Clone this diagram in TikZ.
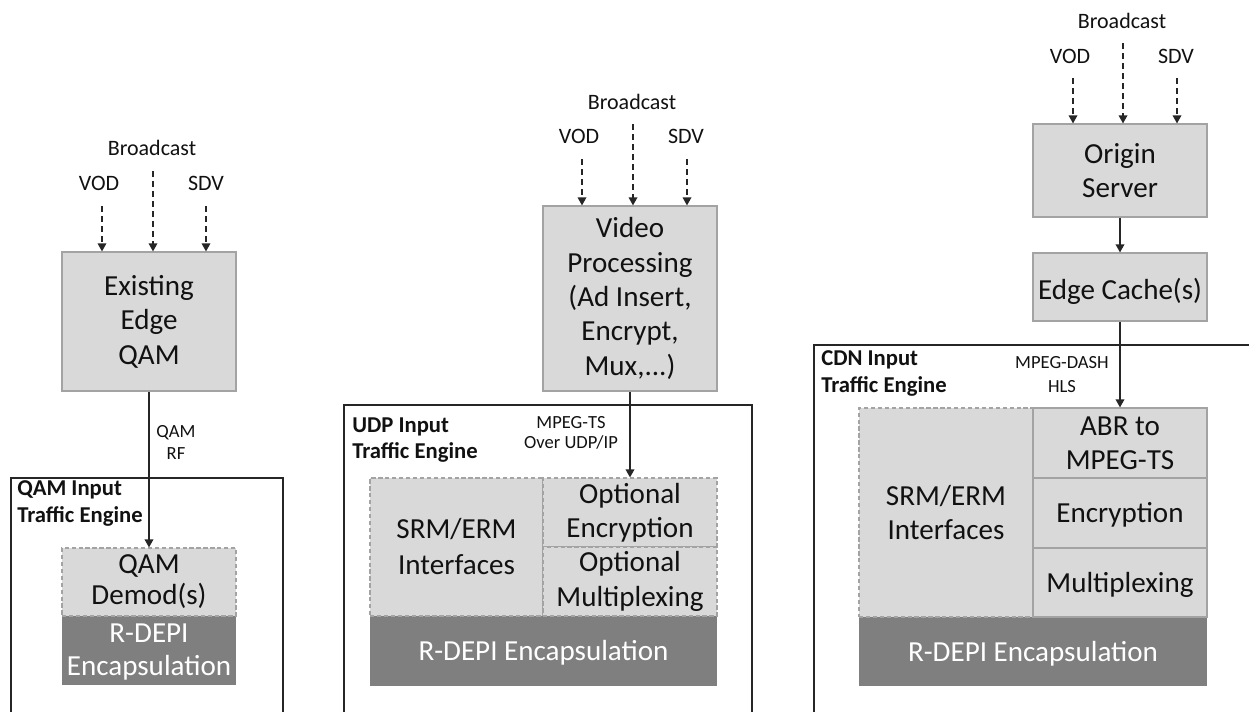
\documentclass[tikz,border=0pt]{standalone}
\usepackage{fontspec}
\setmainfont{Carlito}
\usetikzlibrary{arrows.meta,fit}

\definecolor{boxfill}{HTML}{D9D9D9}
\definecolor{boxline}{HTML}{A3A3A3}
\definecolor{encfill}{HTML}{7F7F7F}
\definecolor{ink}{HTML}{111111}
\definecolor{wire}{HTML}{262626}

\tikzset{
  big/.style={font=\fontsize{21.8}{25.8}\selectfont, align=center, inner sep=0pt, text=ink},
  bigw/.style={big, text=white},
  small/.style={font=\fontsize{16.5}{20}\selectfont, text=ink},
  tiny/.style={font=\fontsize{13.9}{17}\selectfont, text=ink, align=center},
  engine/.style={font=\bfseries\fontsize{17}{20}\selectfont, text=ink, align=left, anchor=west, inner sep=0pt},
  blk/.style={fill=boxfill, draw=boxline, line width=0.9pt, inner sep=0pt},
  dblk/.style={blk, dash pattern=on 3.2pt off 2pt},
  enc/.style={fill=encfill, draw=none, inner sep=0pt},
  inarrow/.style={draw=wire, line width=0.9pt, dash pattern=on 4.5pt off 3pt,
                  -{Triangle[length=6pt,width=6.5pt]}},
  conn/.style={draw=wire, line width=1pt, -{Triangle[length=6pt,width=6.5pt]}},
  cont/.style={draw=wire, line width=1pt},
}

\begin{document}
\begin{tikzpicture}[x=0.75pt, y=-0.75pt]
\useasboundingbox (0,0) rectangle (1249,711);

% ---------------- QAM input traffic engine ----------------
\node[blk, fit={(62,252)(236,391)}] (ex) {};
\node[big] (ex-t) at (ex.center) {Existing\\Edge\\QAM};
\node[small] (bc1) at (152,148) {Broadcast};
\node[small] (vod1) at (99,183) {VOD};
\node[small] (sdv1) at (206,183) {SDV};
\coordinate (bcs1) at (153,171);
\coordinate (vods1) at (102,206);
\coordinate (sdvs1) at (206,206);
\draw[inarrow] (bcs1) -- (bcs1 |- ex.north);
\draw[inarrow] (vods1) -- (vods1 |- ex.north);
\draw[inarrow] (sdvs1) -- (sdvs1 |- ex.north);

\draw[cont] (11,715) -- (11,478) -- (283,478) -- (283,715);
\node[engine] (lab1) at (17,503.5) {QAM Input\\Traffic Engine};

\node[enc, fit={(62,616)(236,685)}] (rd1) {};
\node[bigw, font=\fontsize{21.8}{24.8}\selectfont] (rd1-t) at ([yshift=-1pt]rd1.center) {R-DEPI\\Encapsulation};
\node[dblk, fit={(62,548)(236,616)}] (demod) {};
\node[big, font=\fontsize{21.8}{23.3}\selectfont] (demod-t) at (demod.center) {QAM\\Demod(s)};

\draw[conn] (ex.south) -- (demod.north);
\node[tiny, font=\fontsize{13.9}{17.2}\selectfont] (qrf) at (176,442.5) {QAM\\RF};

% ---------------- UDP input traffic engine ----------------
\node[blk, fit={(543,206)(717,391)}] (vp) {};
\node[big] (vp-t) at (vp.center) {Video\\Processing\\(Ad Insert,\\Encrypt,\\Mux,...)};
\node[small] (bc2) at (632,102) {Broadcast};
\node[small] (vod2) at (579,136) {VOD};
\node[small] (sdv2) at (686,136) {SDV};
\coordinate (bcs2) at (633,124);
\coordinate (vods2) at (582,159);
\coordinate (sdvs2) at (687,159);
\draw[inarrow] (bcs2) -- (bcs2 |- vp.north);
\draw[inarrow] (vods2) -- (vods2 |- vp.north);
\draw[inarrow] (sdvs2) -- (sdvs2 |- vp.north);

\draw[cont] (344,715) -- (344,405) -- (752,405) -- (752,715);
\node[engine] (lab2) at (352,440) {UDP Input\\Traffic Engine};

\node[enc, fit={(370,616)(717,686)}] (rd2) {};
\node[bigw] (rd2-t) at ([yshift=-1.5pt]rd2.center) {R-DEPI Encapsulation};
\node[dblk, fit={(370,478)(543,616)}] (srm2) {};
\node[big, font=\fontsize{21.8}{27}\selectfont] (srm2-t) at (srm2.center) {SRM/ERM\\Interfaces};
\node[dblk, fit={(543,478)(717,547)}] (oenc) {};
\node[big] (oenc-t) at (oenc.center) {Optional\\Encryption};
\node[dblk, fit={(543,547)(717,616)}] (omux) {};
\node[big] (omux-t) at (omux.center) {Optional\\Multiplexing};

\draw[conn] (vp.south) -- (oenc.north);
\node[tiny, font=\fontsize{13.9}{15}\selectfont] (udp) at (571,433) {MPEG-TS\\Over UDP/IP};

% ---------------- CDN input traffic engine ----------------
\node[blk, fit={(1033,124)(1207,217)}] (org) {};
\node[big] (org-t) at (org.center) {Origin\\Server};
\node[small] (bc3) at (1122,21) {Broadcast};
\node[small] (vod3) at (1070,56) {VOD};
\node[small] (sdv3) at (1176,56) {SDV};
\coordinate (bcs3) at (1123,43);
\coordinate (vods3) at (1073,78);
\coordinate (sdvs3) at (1177,78);
\draw[inarrow] (bcs3) -- (bcs3 |- org.north);
\draw[inarrow] (vods3) -- (vods3 |- org.north);
\draw[inarrow] (sdvs3) -- (sdvs3 |- org.north);

\node[blk, fit={(1033,253)(1207,321)}] (cache) {};
\node[big] (cache-t) at ([yshift=-3pt]cache.center) {Edge Cache(s)};
\draw[conn] (org.south) -- (cache.north);

\draw[cont] (814,715) -- (814,345) -- (1253,345);
\node[engine] (lab3) at (821,373.5) {CDN Input\\Traffic Engine};

\node[enc, fit={(859,617)(1207,686)}] (rd3) {};
\node[bigw] (rd3-t) at ([yshift=-1.5pt]rd3.center) {R-DEPI Encapsulation};
\node[dblk, fit={(859,408)(1033,617)}] (srm3) {};
\node[big] (srm3-t) at (srm3.center) {SRM/ERM\\Interfaces};
\node[blk, fit={(1033,408)(1207,478)}] (abr) {};
\node[big] (abr-t) at (abr.center) {ABR to\\MPEG-TS};
\node[blk, fit={(1033,478)(1207,548)}] (enc3) {};
\node[big] (enc3-t) at ([yshift=-1.5pt]enc3.center) {Encryption};
\node[blk, fit={(1033,548)(1207,617)}] (mux3) {};
\node[big] (mux3-t) at ([yshift=-1.5pt]mux3.center) {Multiplexing};

\draw[conn] (cache.south) -- (abr.north);
\node[tiny, font=\fontsize{13.9}{18}\selectfont] (dash) at (1062,375) {MPEG-DASH\\HLS};
\end{tikzpicture}
\end{document}
